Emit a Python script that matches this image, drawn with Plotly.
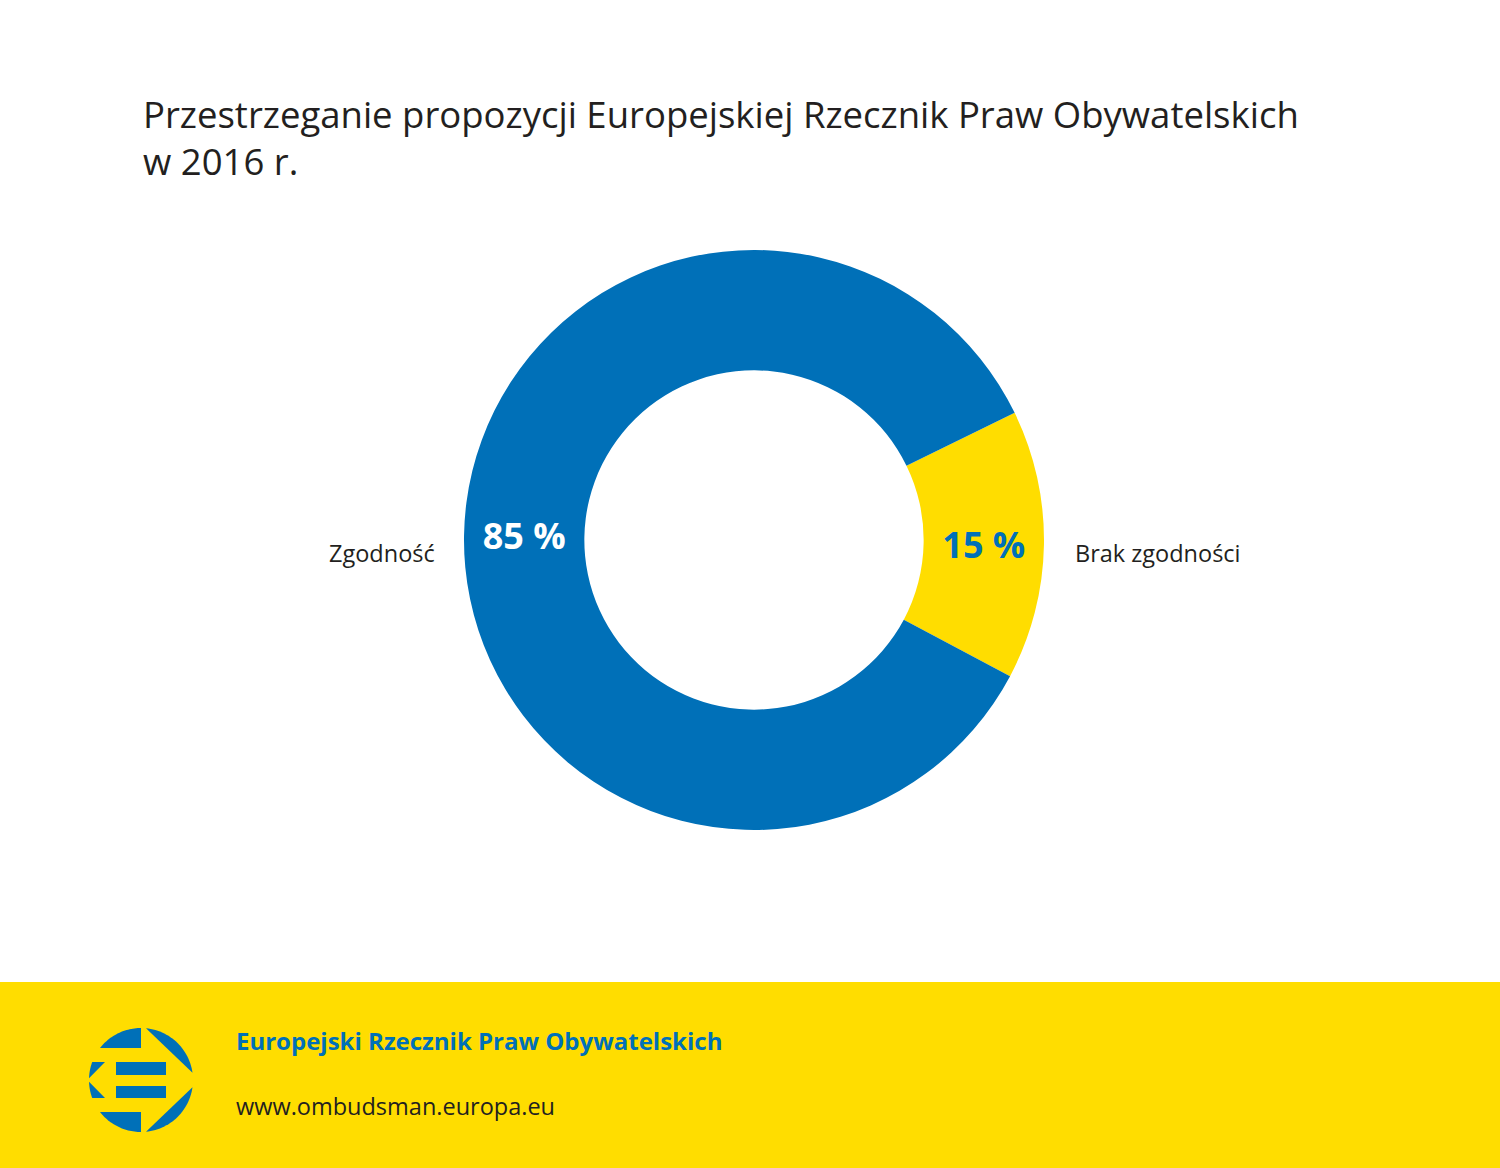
import numpy as np
import plotly.graph_objects as go

# Data
labels = ["Brak zgodności", "Zgodność"]
values = [15, 85]
slice_colors = ["#FFDD00", "#0070B8"]
pct_colors = ["#0070B8", "#FFFFFF"]

title_lines = ["Przestrzeganie propozycji Europejskiej Rzecznik Praw Obywatelskich", "w 2016 r."]
footer_name = "Europejski Rzecznik Praw Obywatelskich"
footer_url = "www.ombudsman.europa.eu"

W, H = 1500, 1168
BLUE = "#0070B8"
YELLOW = "#FFDD00"
FONT = "Open Sans"


def px(x):
    return x / W


def py(y):
    return 1 - y / H


def to_path(points):
    # points in pixel space -> svg path in paper coords
    parts = [f"{px(x):.5f},{py(y):.5f}" for x, y in points]
    return "M " + " L ".join(parts) + " Z"


def arc(cx, cy, r, a0, a1, n=30):
    t = np.radians(np.linspace(a0, a1, n))
    return list(zip(cx + r * np.cos(t), cy - r * np.sin(t)))


fig = go.Figure()

fig.add_trace(go.Pie(
    labels=labels,
    values=values,
    hole=0.585,
    sort=False,
    direction="clockwise",
    rotation=64,
    marker=dict(colors=slice_colors, line=dict(width=0)),
    texttemplate="<b>%{value} %</b>",
    textposition="inside",
    insidetextorientation="horizontal",
    insidetextfont=dict(family=FONT, size=36, color=pct_colors),
    hoverinfo="label+percent",
    showlegend=False,
    domain=dict(x=[px(464), px(1044)], y=[py(830), py(250)]),
))

shapes = []
# yellow footer band
shapes.append(dict(type="rect", xref="paper", yref="paper", x0=0, x1=1, y0=0, y1=py(982),
                   fillcolor=YELLOW, line=dict(width=0), layer="below"))

# logo, built from pieces of a circle
cx, cy, R = 141, 1080, 52
pieces = [
    [(141, 1048)] + arc(cx, cy, R, 90, 142),
    [(141, 1112)] + arc(cx, cy, R, 218, 270),
    arc(cx, cy, R, 8, 84.5),
    arc(cx, cy, R, -84.5, -8),
    [(105, 1062)] + arc(cx, cy, R, 159.7, 178),
    [(105, 1098)] + arc(cx, cy, R, 182, 200.3),
    [(116, 1062), (166, 1062), (166, 1075), (116, 1075)],
    [(116, 1086), (166, 1086), (166, 1098), (116, 1098)],
]
for p in pieces:
    shapes.append(dict(type="path", xref="paper", yref="paper", path=to_path(p),
                       fillcolor=BLUE, line=dict(width=0)))

annotations = [
    dict(text="<br>".join(title_lines), x=px(141), y=py(138), xref="paper", yref="paper",
         xanchor="left", yanchor="middle", align="left", showarrow=False,
         font=dict(family=FONT, size=36.5, color="#231F20")),
    dict(text=labels[1], x=px(437), y=py(553), xref="paper", yref="paper",
         xanchor="right", yanchor="middle", showarrow=False,
         font=dict(family=FONT, size=23.5, color="#231F20")),
    dict(text=labels[0], x=px(1073), y=py(553), xref="paper", yref="paper",
         xanchor="left", yanchor="middle", showarrow=False,
         font=dict(family=FONT, size=23.5, color="#231F20")),
    dict(text=f"<b>{footer_name}</b>", x=px(234), y=py(1040), xref="paper", yref="paper",
         xanchor="left", yanchor="middle", showarrow=False,
         font=dict(family=FONT, size=24, color=BLUE)),
    dict(text=footer_url, x=px(234), y=py(1106), xref="paper", yref="paper",
         xanchor="left", yanchor="middle", showarrow=False,
         font=dict(family=FONT, size=23.5, color="#231F20")),
]

fig.update_layout(
    width=W,
    height=H,
    autosize=False,
    margin=dict(l=0, r=0, t=0, b=0),
    paper_bgcolor="white",
    plot_bgcolor="white",
    shapes=shapes,
    annotations=annotations,
)

# drop the default page margin so the figure fills the window
fig.write_html("out.html", config={"displayModeBar": False},
               post_script="document.body.style.margin='0';")
